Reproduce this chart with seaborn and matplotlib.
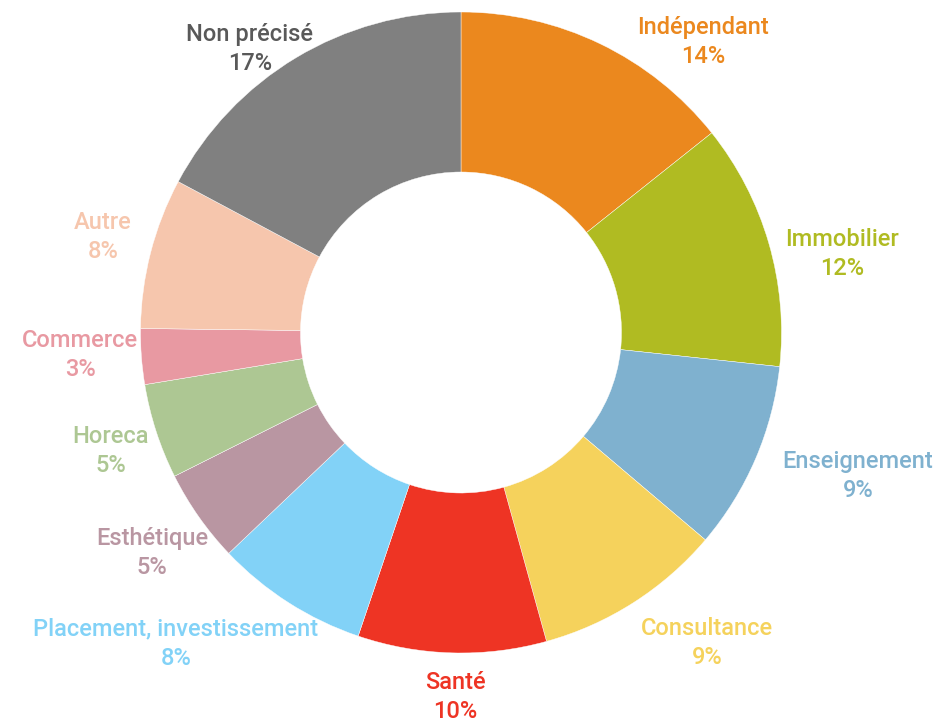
import matplotlib
matplotlib.use("Agg")
import matplotlib.pyplot as plt
import seaborn as sns

# --------------------------------------------
# DATA
# --------------------------------------------
categories = ["Indépendant", "Immobilier", "Enseignement", "Consultance", "Santé",
              "Placement, investissement", "Esthétique", "Horeca", "Commerce",
              "Autre", "Non précisé"]
shares = [14.3, 12.4, 9.5, 9.5, 9.5, 7.7, 4.7, 4.8, 2.8, 7.6, 17.2]
pct_labels = [14, 12, 9, 9, 10, 8, 5, 5, 3, 8, 17]

colors = ["#EB881E", "#B0BB22", "#7FB1CF", "#F5D25C", "#EE3424", "#82D2F7",
          "#B996A2", "#ADC793", "#E899A2", "#F6C6AD", "#808080"]
text_colors = colors[:-1] + ["#595959"]

# label block centres in pixels (x from left, y from top)
label_pos = [(703, 42), (842, 254), (858, 476), (707, 643), (455, 697),
             (176, 644), (152, 553), (111, 451), (80, 355), (103, 237),
             (250, 49)]

W, H = 939, 723

sns.set_theme(style="white")
plt.rcParams['font.family'] = ['Roboto', 'DejaVu Sans']

fig = plt.figure(figsize=(W / 100, H / 100), dpi=100)
ax = fig.add_axes([0, 0, 1, 1])

ax.pie(shares, colors=sns.color_palette(colors), startangle=90, counterclock=False,
       center=(461, H - 332.5), radius=320.5,
       wedgeprops=dict(width=160, edgecolor="white", linewidth=0.3))

ax.set_xlim(0, W)
ax.set_ylim(0, H)
ax.set_aspect("equal")
ax.axis("off")

for name, pct, col, (x, y) in zip(categories, pct_labels, text_colors, label_pos):
    ax.text(x, H - y, f"{name}\n{pct}%", ha="center", va="center",
            color=col, fontsize=17, fontweight="medium", linespacing=1.35)

fig.savefig("out.png", dpi=100)
